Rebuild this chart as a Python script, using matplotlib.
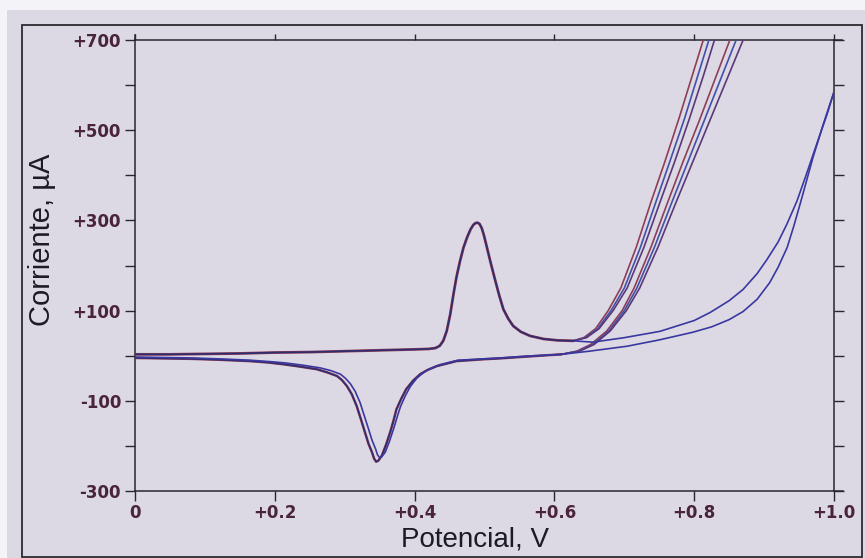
import matplotlib
matplotlib.use("Agg")
import matplotlib.pyplot as plt
from matplotlib.lines import Line2D
from matplotlib.patches import Rectangle

# ---------------- data ----------------
# common anodic (forward) scan, 0 -> 0.627 V
E_fwd = [0.000, 0.050, 0.100, 0.150, 0.200, 0.250, 0.300, 0.350, 0.400, 0.420,
         0.430, 0.436, 0.441, 0.446, 0.451, 0.456, 0.460, 0.465, 0.470, 0.475,
         0.480, 0.484, 0.487, 0.490, 0.493, 0.496, 0.499, 0.503, 0.509, 0.515,
         0.521, 0.527, 0.534, 0.541, 0.552, 0.565, 0.585, 0.605, 0.627]
I_fwd = [3, 3, 4, 5, 7, 8, 10, 12, 14, 15,
         17, 22, 33, 55, 92, 140, 175, 210, 240, 262,
         280, 290, 294, 295, 292, 283, 268, 243, 205, 169,
         134, 103, 82, 66, 53, 44, 37, 34, 33]

# steep anodic rise (three cycles)
I_rise = [33, 40, 60, 100, 150, 240, 340, 430, 525, 620, 700, 780]
E_rise_1 = [0.627, 0.642, 0.659, 0.677, 0.695, 0.717, 0.738, 0.758, 0.778, 0.797, 0.813, 0.829]
E_rise_2 = [0.627, 0.644, 0.662, 0.681, 0.700, 0.723, 0.745, 0.765, 0.786, 0.805, 0.821, 0.837]
E_rise_3 = [0.627, 0.646, 0.664, 0.684, 0.704, 0.728, 0.751, 0.772, 0.793, 0.813, 0.829, 0.845]

# return branches of the same cycles
I_back = [780, 700, 610, 520, 430, 340, 240, 150, 100, 55, 25, 10, 3]
E_back_1 = [0.871, 0.851, 0.829, 0.807, 0.784, 0.762, 0.738, 0.714, 0.697, 0.675, 0.652, 0.632, 0.610]
E_back_2 = [0.880, 0.860, 0.837, 0.814, 0.791, 0.768, 0.743, 0.718, 0.700, 0.678, 0.655, 0.634, 0.610]
E_back_3 = [0.890, 0.870, 0.846, 0.822, 0.798, 0.774, 0.748, 0.722, 0.703, 0.680, 0.657, 0.636, 0.610]

# cathodic (reverse) scans, 0.61 -> 0 V
E_cat_a = [0.610, 0.560, 0.522, 0.498, 0.460, 0.432, 0.418, 0.408, 0.398, 0.388, 0.381,
           0.374, 0.370, 0.365, 0.359, 0.353, 0.348, 0.345, 0.342, 0.339, 0.334, 0.329,
           0.323, 0.317, 0.310, 0.303, 0.296, 0.289, 0.275, 0.260, 0.235, 0.212, 0.190,
           0.164, 0.120, 0.080, 0.040, 0.000]
I_cat_a = [3, -2, -6, -8, -12, -23, -32, -41, -55, -74, -95,
           -119, -143, -170, -198, -222, -233, -235, -228, -214, -195, -170,
           -140, -111, -85, -67, -54, -45, -37, -30, -24, -19, -15,
           -12, -9, -7, -6, -5]
E_cat_b = [0.610, 0.560, 0.522, 0.498, 0.462, 0.436, 0.423, 0.413, 0.403, 0.394, 0.387,
           0.380, 0.375, 0.370, 0.364, 0.358, 0.353, 0.350, 0.347, 0.344, 0.339, 0.334,
           0.328, 0.322, 0.315, 0.308, 0.301, 0.294, 0.280, 0.265, 0.240, 0.215, 0.192,
           0.165, 0.120, 0.080, 0.040, 0.000]
I_cat_b = [3, -1, -5, -7, -10, -20, -28, -37, -50, -68, -88,
           -112, -136, -162, -190, -214, -224, -226, -220, -206, -187, -162,
           -133, -104, -79, -62, -50, -41, -33, -27, -21, -16, -13,
           -10, -7, -5, -4, -3]

# slower cycle that reaches +1.0 V
E_blue_fwd = [0.627, 0.655, 0.700, 0.751, 0.800, 0.823, 0.850, 0.870, 0.890, 0.904,
              0.920, 0.933, 0.947, 0.960, 0.975, 0.990, 1.000]
I_blue_fwd = [33, 30, 40, 54, 78, 96, 122, 147, 182, 213,
              252, 293, 343, 400, 468, 535, 585]
E_blue_back = [1.000, 0.985, 0.970, 0.954, 0.943, 0.933, 0.920, 0.908, 0.890, 0.870, 0.850,
               0.825, 0.798, 0.750, 0.704, 0.650, 0.610]
I_blue_back = [585, 515, 440, 350, 290, 240, 196, 162, 125, 98, 80,
               64, 52, 35, 21, 10, 3]

x_ticks = [0.0, 0.2, 0.4, 0.6, 0.8, 1.0]
x_labels = ["0", "+0.2", "+0.4", "+0.6", "+0.8", "+1.0"]
y_ticks = [700, 500, 300, 100, -100, -300]
y_labels = ["+700", "+500", "+300", "+100", "-100", "-300"]
y_minor = [600, 400, 200, 0, -200]

# ---------------- figure ----------------
W, H = 865, 558
bg = "#dcd9e5"
fig = plt.figure(figsize=(W / 100, H / 100), dpi=100, facecolor=bg)

# paper margins (white strip at top and left)
fig.patches.append(Rectangle((0, 1 - 10 / H), 1, 10 / H, transform=fig.transFigure,
                             facecolor="#f4f3f7", edgecolor="none", zorder=0))
fig.patches.append(Rectangle((0, 0), 7 / W, 1, transform=fig.transFigure,
                             facecolor="#f4f3f7", edgecolor="none", zorder=0))
# outer frame
fig.patches.append(Rectangle((22 / W, 1 - 557 / H), (862 - 22) / W, (557 - 25) / H,
                             transform=fig.transFigure, facecolor="none",
                             edgecolor="#2a2a30", lw=1.3, zorder=1))

L, R, T, B = 135, 834, 40, 491
ax = fig.add_axes([L / W, 1 - B / H, (R - L) / W, (B - T) / H])
ax.set_facecolor(bg)
ax.set_xlim(0, 1.0)
ax.set_ylim(-300, 700)

c_red = "#8e3e55"
c_navy = "#2f2c70"
c_blue = "#4150a8"
c_purp = "#5a3878"
c_vblue = "#3a38a0"

kw = dict(solid_joinstyle="round", solid_capstyle="round")

# forward common scan
ax.plot(E_fwd, I_fwd, color=c_red, lw=2.0, zorder=3, **kw)
ax.plot(E_fwd, I_fwd, color=c_navy, lw=1.2, zorder=4, **kw)

# steep rises and returns
for Er, col in zip([E_rise_1, E_rise_2, E_rise_3], [c_red, c_blue, c_purp]):
    ax.plot(Er, I_rise, color=col, lw=1.2, zorder=3, **kw)
for Eb, col in zip([E_back_1, E_back_2, E_back_3], [c_red, c_blue, c_purp]):
    ax.plot(Eb, I_back, color=col, lw=1.2, zorder=3, **kw)

# cathodic traces
ax.plot(E_cat_a, I_cat_a, color=c_red, lw=1.8, zorder=3, **kw)
ax.plot(E_cat_a, I_cat_a, color=c_navy, lw=1.1, zorder=4, **kw)
ax.plot(E_cat_b, I_cat_b, color=c_vblue, lw=1.2, zorder=4, **kw)

# slow cycle
ax.plot(E_blue_fwd, I_blue_fwd, color=c_vblue, lw=1.2, zorder=3, **kw)
ax.plot(E_blue_back, I_blue_back, color=c_vblue, lw=1.2, zorder=3, **kw)

# ---------------- axes styling ----------------
axc = "#2a2630"
for s in ax.spines.values():
    s.set_color(axc)
    s.set_linewidth(1.1)

lab_col = "#4a2438"
tick_font = dict(family="DejaVu Sans", weight="bold", size=12)

ax.set_xticks(x_ticks)
ax.set_xticklabels(x_labels, fontdict=tick_font, color=lab_col)
ax.set_yticks(y_ticks)
ax.set_yticklabels(y_labels, fontdict=tick_font, color=lab_col)
ax.set_yticks(y_minor, minor=True)

ax.tick_params(axis="x", which="major", direction="out", length=7, width=1.0,
               color=axc, pad=2, top=True, labeltop=False)
ax.tick_params(axis="y", which="both", direction="out", length=7, width=1.0,
               color=axc, pad=3, right=True, labelright=False)

# short outward ticks on the top edge
for t in ax.xaxis.get_major_ticks():
    t.tick2line.set_markersize(4)

# extensions of the axis lines
ax.add_line(Line2D([0, 0], [1.0, 1.0 + 5 / (B - T)], transform=ax.transAxes,
                   color=axc, lw=1.1, clip_on=False))
ax.add_line(Line2D([1.0, 1.0 + 9 / (R - L)], [0, 0], transform=ax.transAxes,
                   color=axc, lw=1.1, clip_on=False))
ax.add_line(Line2D([1.0, 1.0 + 8 / (R - L)], [1, 1], transform=ax.transAxes,
                   color=axc, lw=1.1, clip_on=False))

# axis titles
fig.text(42 / W, 1 - 240 / H, "Corriente, µA", rotation=90, ha="center", va="center",
         family="Liberation Sans", size=21, color="#1c1a24")
fig.text(475 / W, 1 - 540 / H, "Potencial, V", ha="center", va="center",
         family="Liberation Sans", size=20, color="#1c1a24")

fig.savefig("out.png", dpi=100, facecolor=bg)
